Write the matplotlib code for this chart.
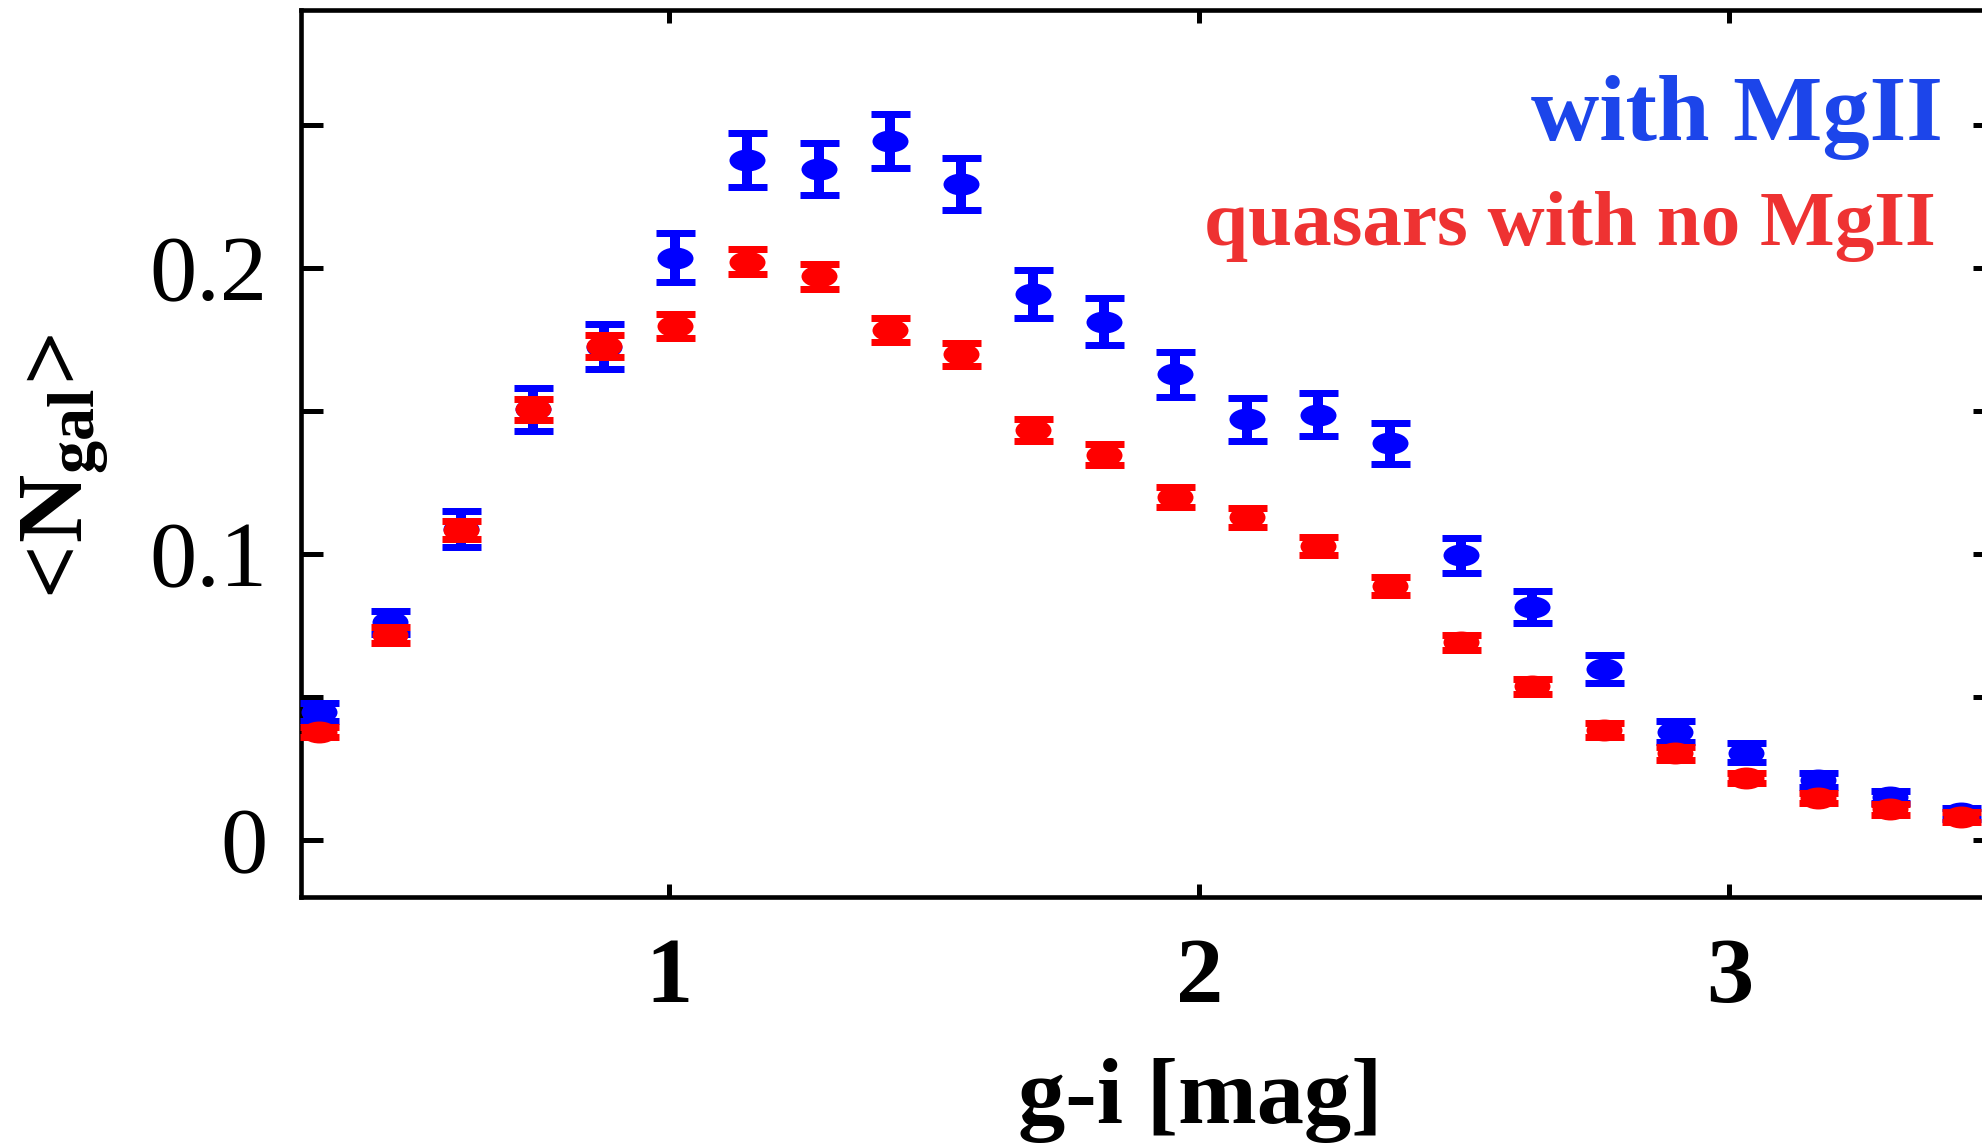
import matplotlib
matplotlib.use("Agg")
import matplotlib.pyplot as plt
from matplotlib.path import Path
from matplotlib.transforms import Affine2D
import numpy as np

plt.rcParams['font.family'] = ['Liberation Serif', 'DejaVu Serif']
plt.rcParams['mathtext.fontset'] = 'custom'
plt.rcParams['mathtext.rm'] = 'Liberation Serif'
plt.rcParams['mathtext.bf'] = 'Liberation Serif:bold'
plt.rcParams['mathtext.it'] = 'Liberation Serif:italic'

# ---- data ----
gi_color = [0.339, 0.474, 0.608, 0.743, 0.878, 1.012, 1.147, 1.282, 1.416, 1.551,
            1.686, 1.820, 1.955, 2.090, 2.224, 2.359, 2.494, 2.628, 2.763, 2.898,
            3.032, 3.167, 3.302, 3.437]

ngal_mgii = [0.0447, 0.0760, 0.1086, 0.1505, 0.1724, 0.2035, 0.2377, 0.2345, 0.2443, 0.2293,
             0.1910, 0.1811, 0.1627, 0.1470, 0.1487, 0.1386, 0.0995, 0.0814, 0.0597, 0.0378,
             0.0304, 0.0209, 0.0150, 0.0092]
err_mgii = [0.0030, 0.0040, 0.0063, 0.0075, 0.0078, 0.0086, 0.0093, 0.0092, 0.0095, 0.0091,
            0.0084, 0.0082, 0.0078, 0.0074, 0.0075, 0.0073, 0.0061, 0.0057, 0.0048, 0.0036,
            0.0033, 0.0026, 0.0021, 0.0018]

ngal_nomgii = [0.0378, 0.0716, 0.1083, 0.1505, 0.1727, 0.1796, 0.2021, 0.1971, 0.1782, 0.1697,
               0.1432, 0.1347, 0.1200, 0.1127, 0.1028, 0.0888, 0.0690, 0.0537, 0.0384, 0.0302,
               0.0215, 0.0145, 0.0106, 0.0080]
err_nomgii = [0.0018, 0.0027, 0.0032, 0.0038, 0.0038, 0.0041, 0.0043, 0.0044, 0.0042, 0.0039,
              0.0038, 0.0036, 0.0035, 0.0034, 0.0032, 0.0031, 0.0027, 0.0026, 0.0023, 0.0023,
              0.0018, 0.0018, 0.0018, 0.0018]

ytick_vals = [0, 0.05, 0.1, 0.15, 0.2, 0.25]
ytick_labels = ['0', '', '0.1', '', '0.2', '']
xtick_vals = [1, 2, 3]
xtick_labels = ['1', '2', '3']

label_mgii = 'with MgII'
label_nomgii = 'quasars with no MgII'

# ---- figure ----
W, H, DPI = 1982, 1143, 100
fig = plt.figure(figsize=(W / DPI, H / DPI), dpi=DPI)
px = 72.0 / DPI  # points per pixel

ax = fig.add_axes([300.5 / W, 1 - 897 / H, 1694 / W, 886.6 / H])
ax.set_xlim(0.305, 3.5)
ax.set_ylim(-0.02, 0.29)

# elliptical marker
ell = Path.unit_circle().transformed(Affine2D().scale(1.0, 0.61))

common = dict(fmt='none', elinewidth=10 * px, capsize=19.5 * px, capthick=7 * px)
for y, e, c, z in [(ngal_mgii, err_mgii, '#0000ff', 3), (ngal_nomgii, err_nomgii, '#ff0000', 5)]:
    ax.errorbar(gi_color, y, yerr=e, ecolor=c, zorder=z, clip_on=False, **common)
    ax.plot(gi_color, y, linestyle='none', marker=ell, markersize=36 * px,
            markerfacecolor=c, markeredgewidth=0, zorder=z + 0.5, clip_on=False)

for s in ax.spines.values():
    s.set_linewidth(4.6 * px)

ax.set_yticks(ytick_vals)
ax.set_yticklabels(ytick_labels)
ax.set_xticks(xtick_vals)
ax.set_xticklabels(xtick_labels, fontweight='bold')
ax.tick_params(axis='y', which='both', direction='in', length=22 * px, width=5 * px,
               left=True, right=True, labelsize=68, pad=33 * px)
ax.tick_params(axis='x', which='both', direction='in', length=13 * px, width=5 * px,
               bottom=True, top=True, labelsize=68, pad=40 * px)
ax.minorticks_off()

fig.text(1943 / W, 1 - 140 / H, label_mgii, color='#1c45ea', fontsize=68,
         fontweight='bold', ha='right', va='baseline')
fig.text(1936 / W, 1 - 245 / H, label_nomgii, color='#ee3232', fontsize=57,
         fontweight='bold', ha='right', va='baseline')

fig.text(1200 / W, 1 - 1123 / H, 'g-i [mag]', fontsize=68, fontweight='bold',
         ha='center', va='baseline')
fig.text(65 / W, 1 - 467 / H, r'$\mathbf{\!<\!N_{gal}\!>\!}$', fontsize=68,
         rotation=90, ha='center', va='center')

fig.savefig('out.png', dpi=DPI)
